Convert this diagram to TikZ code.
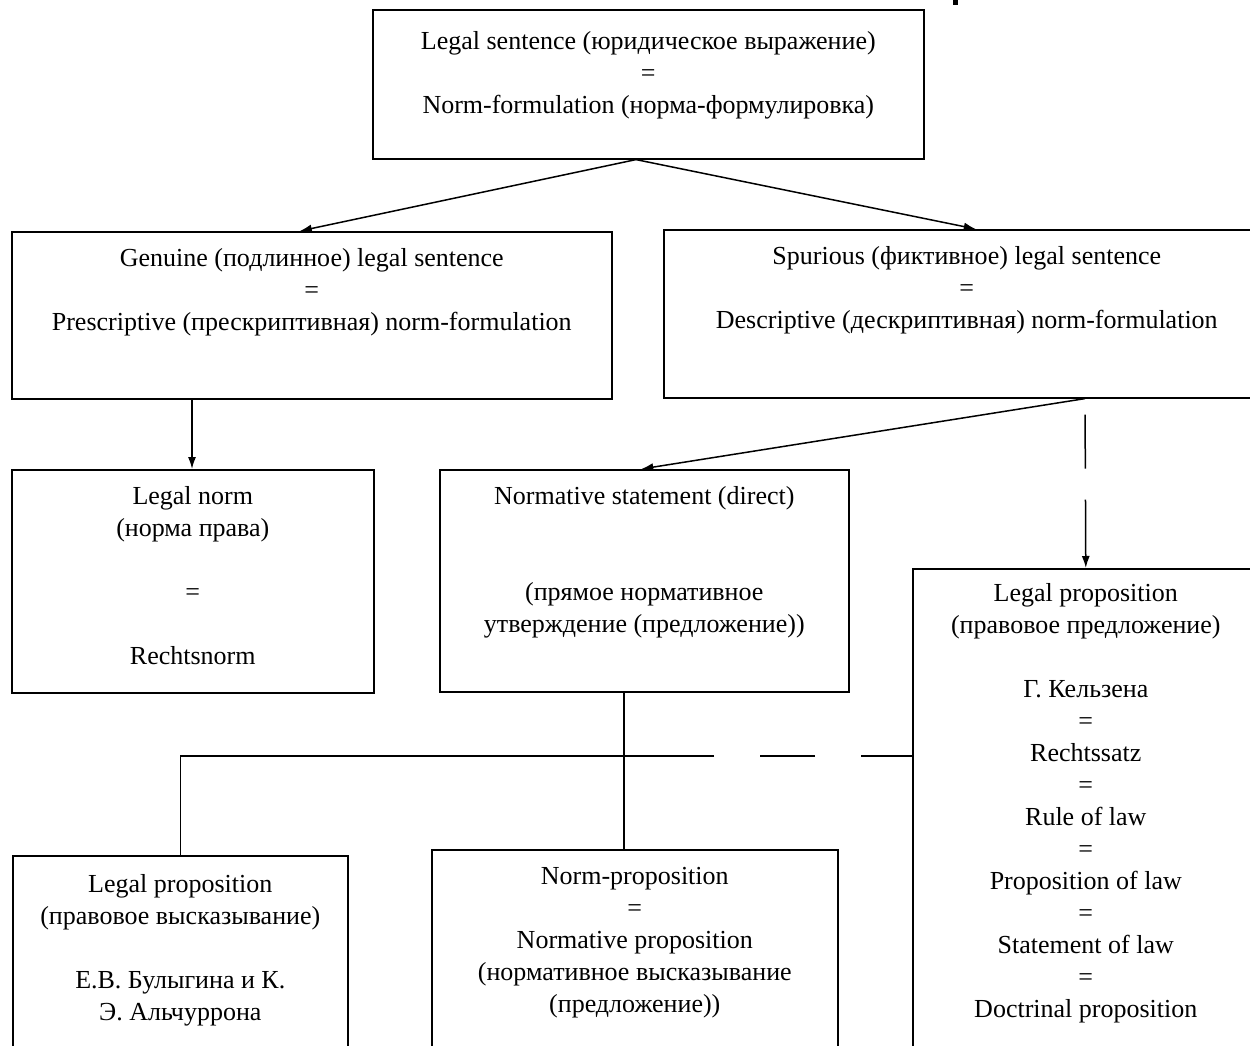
\documentclass[tikz,border=0pt]{standalone}
\usepackage{fontspec}
\setmainfont{Liberation Serif}
\usetikzlibrary{arrows.meta,calc}
\newcommand\bxc[4]{\parbox[c][#2][t]{#1}{\centering\rule{0pt}{#3}#4}}
\begin{document}
\begin{tikzpicture}[x=1pt,y=-1pt,
  bx/.style={draw, rectangle, line width=1.6pt, inner sep=0pt, anchor=north west,
             font=\fontsize{26}{32}\selectfont},
  conn/.style={line width=1.5pt},
  arr/.style={conn, -{Latex[length=12pt,width=8pt]}}]
\useasboundingbox (0,0) rectangle (1250,1046);
\clip (0,0) rectangle (1250,1046);
\fill[white] (0,0) rectangle (1250,1046);

\node[bx] (top) at (372,9) {\bxc{551pt}{149pt}{40pt}{Legal sentence (юридическое выражение)\\=\\Norm-formulation (норма-формулировка)}};
\node[bx] (gen) at (11,231) {\bxc{600pt}{167pt}{35pt}{Genuine (подлинное) legal sentence\\=\\Prescriptive (прескриптивная) norm-formulation}};
\node[bx] (spu) at (663,229) {\bxc{606pt}{168pt}{35pt}{Spurious (фиктивное) legal sentence\\=\\Descriptive (дескриптивная) norm-formulation}};
\node[bx] (lnorm) at (11,469) {\bxc{362pt}{223pt}{35pt}{Legal norm\\(норма права)\\[32pt]=\\[32pt]Rechtsnorm}};
\node[bx] (nstat) at (439,469) {\bxc{409pt}{222pt}{35pt}{Normative statement (direct)\\[64pt](прямое нормативное\\утверждение (предложение))}};
\node[bx] (lprop) at (912,568) {\bxc{346pt}{600pt}{33pt}{Legal proposition\\(правовое предложение)\\[32pt]Г. Кельзена\\=\\Rechtssatz\\=\\Rule of law\\=\\Proposition of law\\=\\Statement of law\\=\\Doctrinal proposition}};
\node[bx] (bl) at (12,855) {\bxc{335pt}{300pt}{37pt}{Legal proposition\\(правовое высказывание)\\[32pt]Е.В. Булыгина и К.\\Э. Альчуррона}};
\node[bx] (bm) at (431,849) {\bxc{406pt}{300pt}{35pt}{Norm-proposition\\=\\Normative proposition\\(нормативное высказывание\\(предложение))}};

\coordinate (hl) at (0,756);
\coordinate (apex) at ($(top.south west)+(264,0)$);
\coordinate (sfoot) at ($(spu.south west)+(422,0)$);

\draw[arr] (apex) -- ([xshift=-12pt]gen.north);
\draw[arr] (apex) -- ([xshift=9pt]spu.north);
\draw[arr] ($(gen.south west)+(181,0)$) -- ($(lnorm.north west)+(181,0)$);
\draw[arr] (sfoot) -- ([xshift=-3pt]nstat.north);
\draw[arr, dash pattern=on 0pt off 16pt on 54pt off 31pt on 300pt off 0pt] (sfoot) -- (lprop.north);
\draw[conn] ($(nstat.south west)+(185,0)$) -- ($(bm.north west)+(193,0)$);
\draw[conn, dash pattern=on 51pt off 46pt on 55pt off 46pt on 1000pt off 0pt]
  (lprop.west |- hl) -- (bl.north |- hl) -- (bl.north);

\fill (953,0) rectangle (958,5);
\end{tikzpicture}
\end{document}
